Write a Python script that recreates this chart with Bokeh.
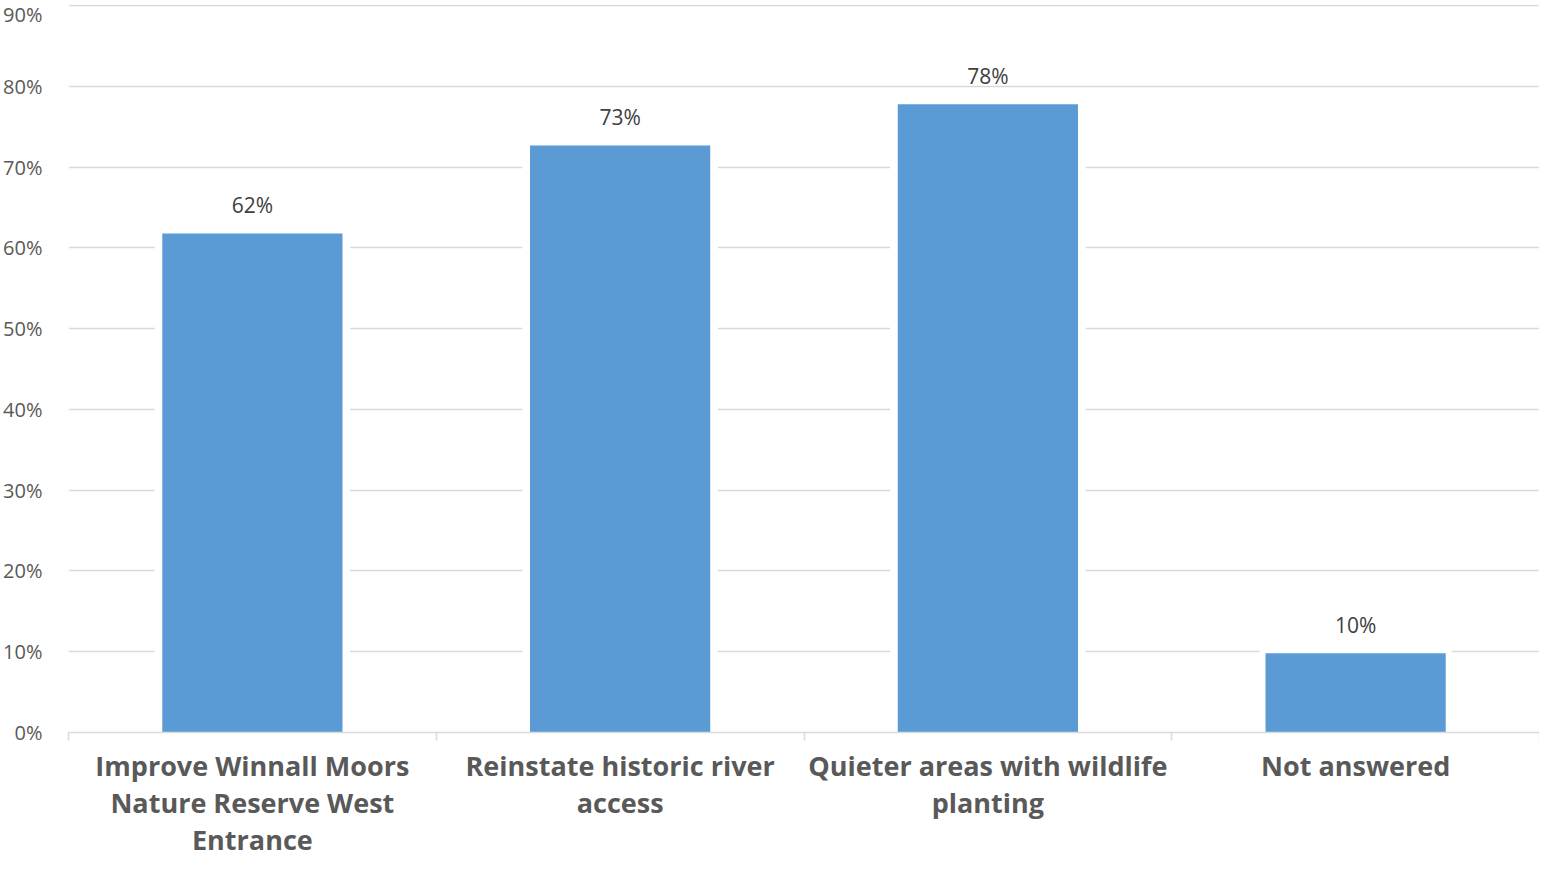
from bokeh.plotting import figure
from bokeh.models import Range1d, FixedTicker, ColumnDataSource
from bokeh.core.properties import value
from bokeh.embed import file_html
from bokeh.resources import INLINE

categories = ["Improve Winnall Moors\nNature Reserve West\nEntrance",
              "Reinstate historic river\naccess",
              "Quieter areas with wildlife\nplanting",
              "Not answered"]
values = [61.8, 72.7, 77.8, 9.8]
labels = ["62%", "73%", "78%", "10%"]
y_ticks = [0, 10, 20, 30, 40, 50, 60, 70, 80, 90]

xs = [i + 0.5 for i in range(len(categories))]
src = ColumnDataSource(dict(x=xs, top=values, lab=labels))

p = figure(width=1539, height=860, output_backend="svg", toolbar_location=None,
           x_range=Range1d(0, len(categories)), y_range=Range1d(0, 90.15),
           min_border_left=60, min_border_right=0, min_border_top=4, min_border_bottom=0)
p.outline_line_color = None
p.background_fill_color = "white"
p.border_fill_color = "white"

FONT = value("Open Sans")
# grid
p.xgrid.grid_line_color = None
p.ygrid.ticker = FixedTicker(ticks=y_ticks)
p.ygrid.grid_line_color = "#D9D9D9"
p.ygrid.grid_line_width = 1.5

# bars with white halo
p.vbar(x="x", top="top", width=0.51, source=src, fill_color="white", line_color="white", line_width=8)
p.vbar(x="x", top="top", width=0.49, source=src, fill_color="#5B9BD5", line_color=None)

p.text(x="x", y="top", text="lab", source=src, text_align="center", text_baseline="middle",
       y_offset=-28, text_font=FONT, text_font_size="21px", text_color="#404040")

# y axis
ya = p.yaxis[0]
ya.ticker = FixedTicker(ticks=y_ticks)
ya.major_label_overrides = {t: f"{t}%" for t in y_ticks}
ya.axis_line_color = None
ya.major_tick_line_color = None
ya.minor_tick_line_color = None
ya.major_label_text_font = "Open Sans"
ya.major_label_text_font_size = "20px"
ya.major_label_text_color = "#595959"
ya.major_label_standoff = 20

# x axis
xa = p.xaxis[0]
xa.ticker = FixedTicker(ticks=xs, minor_ticks=list(range(len(categories) + 1)))
xa.major_label_overrides = {x: c for x, c in zip(xs, categories)}
xa.axis_line_color = "#D9D9D9"
xa.axis_line_width = 1.5
xa.major_tick_line_color = None
xa.major_tick_out = 8
xa.minor_tick_line_color = "#D9D9D9"
xa.minor_tick_line_width = 1.5
xa.minor_tick_in = 0
xa.minor_tick_out = 8
xa.major_label_text_font = "Open Sans"
xa.major_label_text_font_style = "bold"
xa.major_label_text_font_size = "27px"
xa.major_label_text_color = "#595959"
xa.major_label_text_line_height = 1.0
xa.major_label_standoff = 6

open("out.html", "w").write(file_html(p, INLINE))
